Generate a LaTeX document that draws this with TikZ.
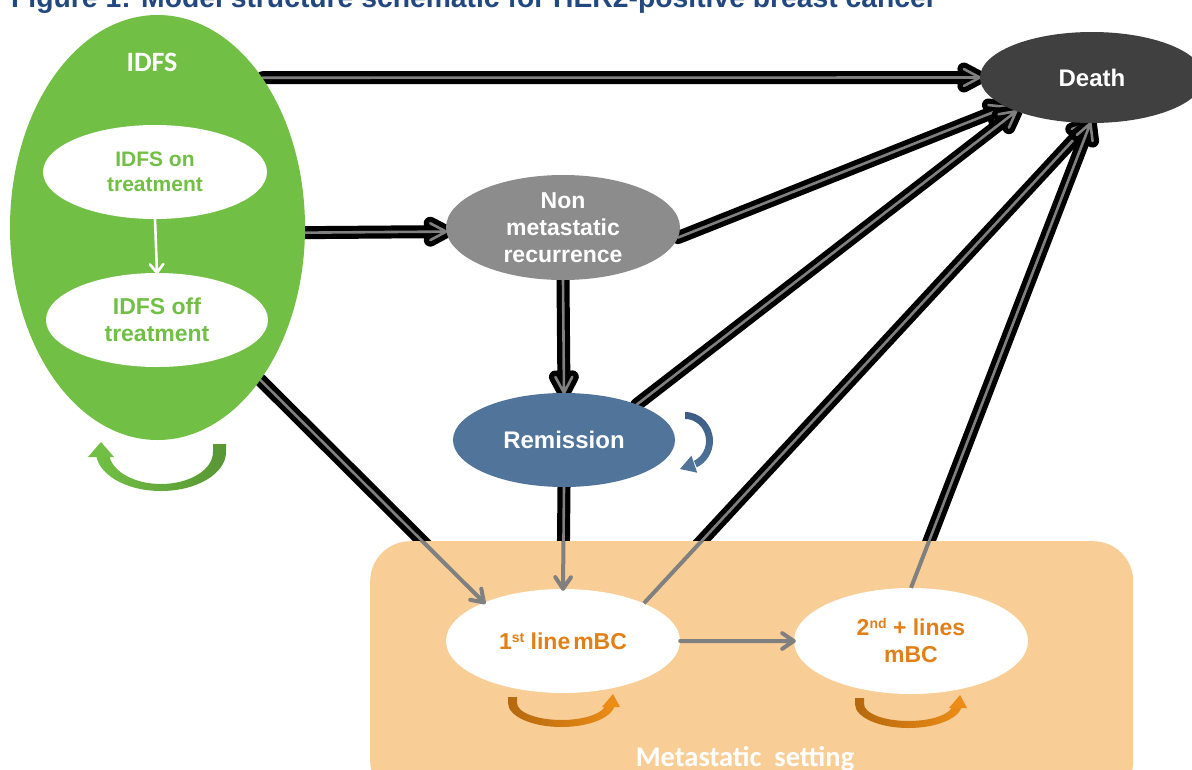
\documentclass[tikz,border=0pt]{standalone}
\usepackage{fontspec}
\setmainfont{Liberation Sans}
\newfontfamily\carlito{Carlito}
\usetikzlibrary{shapes.geometric,calc}
\definecolor{idfsgreen}{RGB}{113,191,68}
\definecolor{greendark}{RGB}{88,150,52}
\definecolor{nmgray}{RGB}{140,140,141}
\definecolor{remblue}{RGB}{80,116,154}
\definecolor{remdark}{RGB}{60,92,132}
\definecolor{deathgray}{RGB}{64,64,64}
\definecolor{boxorange}{RGB}{248,205,150}
\definecolor{txtorange}{RGB}{226,128,24}
\definecolor{loopdark}{RGB}{180,104,14}
\definecolor{loopbright}{RGB}{236,140,22}
\definecolor{titleblue}{RGB}{35,72,128}
\definecolor{fatgray}{RGB}{128,128,128}
\pgfdeclarelayer{bg}\pgfdeclarelayer{fg}\pgfsetlayers{bg,main,fg}
\begin{document}
\begin{tikzpicture}[x=1pt,y=-1pt,
  state/.style={ellipse, inner sep=0pt, draw=none},
  lbl/.style={text=white, inner sep=0pt, align=center},
  glbl/.style={text=idfsgreen, inner sep=0pt, align=center},
  olbl/.style={text=txtorange, inner sep=0pt, align=center},
  chevron/.style 2 args={to path={(\tikztostart) -- (\tikztotarget)
      ($(\tikztotarget)!#1!#2:(\tikztostart)$) -- (\tikztotarget) -- ($(\tikztotarget)!#1!-#2:(\tikztostart)$)}},
  fatarrow/.style={chevron={18pt}{28}, draw=black, line width=13pt, line join=round, line cap=round,
      postaction={draw=fatgray, line width=2.6pt}},
  thinarrow/.style={chevron={14pt}{34}, draw=fatgray, line width=4pt, line join=round, line cap=round},
  thinline/.style={draw=fatgray, line width=4pt},
  whitearrow/.style={chevron={11pt}{38}, draw=white, line width=2.6pt, line join=round, line cap=round}
]
\useasboundingbox (0,0) rectangle (1192,769);

% title (cut off at top)
\node[anchor=base west, inner sep=0pt, text=titleblue, font=\bfseries\fontsize{28.3}{30}\selectfont] (title) at (11,7)
  {Figure 1: Model structure schematic for HER2-positive breast cancer};

% states
\node[state, fill=idfsgreen, minimum width=295pt, minimum height=425pt] (idfs) at (157.5,227.5) {};
\node[state, fill=white, minimum width=224pt, minimum height=94pt] (on) at (155,172) {};
\node[state, fill=white, minimum width=222pt, minimum height=94pt] (off) at (157,320) {};
\node[state, fill=deathgray, minimum width=224pt, minimum height=91pt] (death) at (1092,77.5) {};
\node[state, fill=nmgray, minimum width=234pt, minimum height=105pt] (nonmet) at (563,227.5) {};
\node[state, fill=remblue, minimum width=222pt, minimum height=94pt] (rem) at (564,440) {};

% metastatic box
\node[fill=boxorange, rounded corners=40pt, inner sep=0pt, minimum width=763pt, minimum height=260pt, anchor=north west] (meta) at (370,541) {};
\node[state, fill=white, minimum width=234pt, minimum height=104pt] (first) at (563,641) {};
\node[state, fill=white, minimum width=234pt, minimum height=106pt] (second) at (911,641) {};

% labels
\node[lbl, anchor=base, font=\carlito\bfseries\fontsize{28}{30}\selectfont] (idfslbl) at (152,71) {IDFS};
\node[glbl, font=\bfseries\fontsize{21}{25}\selectfont] (onlbl) at (on) {IDFS on\\treatment};
\node[glbl, font=\bfseries\fontsize{23}{27}\selectfont] (offlbl) at (off) {IDFS off\\treatment};
\node[lbl, font=\bfseries\fontsize{24}{28}\selectfont] (deathlbl) at (death) {Death};
\node[lbl, font=\bfseries\fontsize{23}{27}\selectfont] (nonmetlbl) at (nonmet) {Non\\metastatic\\recurrence};
\node[lbl, font=\bfseries\fontsize{24}{28}\selectfont] (remlbl) at (rem) {Remission};
\node[olbl, font=\bfseries\fontsize{23}{27}\selectfont] (firstlbl) at (first)
  {1\raisebox{7pt}{\fontsize{14}{14}\selectfont st} line\hspace{3pt}mBC};
\node[olbl, font=\bfseries\fontsize{23}{27}\selectfont] (secondlbl) at (second)
  {2\raisebox{7pt}{\fontsize{14}{14}\selectfont nd} + lines\\mBC};
\node[lbl, anchor=base, font=\carlito\bfseries\fontsize{28.5}{30}\selectfont] (metalbl) at (745,766) {Metastatic~~setting};

% self loops
\shade[left color=idfsgreen, right color=greendark] (226,444) -- (226,452)
  arc[start angle=0, end angle=180, x radius=65, y radius=39] -- (109,452)
  arc[start angle=180, end angle=0, x radius=52, y radius=32] -- (213,444) -- cycle;
\fill[idfsgreen] (88,457) -- (101,442) -- (114,457) -- cycle;

\shade[top color=remdark, bottom color=remblue] (685,412)
  arc[start angle=-90, end angle=65, x radius=28, y radius=29] -- (693.9,460.9)
  arc[start angle=65, end angle=-90, x radius=21, y radius=22] -- cycle;
\fill[remblue] (680,469) -- (691.4,455.7) -- (697.2,472.7) -- cycle;

\shade[left color=loopdark, right color=loopbright] (508,697) -- (508,703)
  arc[start angle=180, end angle=0, x radius=53.5, y radius=24] -- (606,703)
  arc[start angle=0, end angle=180, x radius=44.5, y radius=17] -- (517,697) -- cycle;
\fill[loopbright] (602,707) -- (613,694) -- (620,707) -- cycle;

\shade[left color=loopdark, right color=loopbright] (855,698) -- (855,704)
  arc[start angle=180, end angle=0, x radius=53.5, y radius=24] -- (953,704)
  arc[start angle=0, end angle=180, x radius=44.5, y radius=17] -- (864,698) -- cycle;
\fill[loopbright] (949,708) -- (960,695) -- (967,708) -- cycle;

% background and thick connectors (behind everything)
\begin{pgfonlayer}{bg}
\fill[white] (0,0) rectangle (1192,769);
\draw[fatarrow] (idfs.55) to (death.west);
\draw[fatarrow] (idfs.-2) to (nonmet.182);
\draw[fatarrow] (idfs.-56) to (first.154);
\draw[fatarrow] (nonmet.south) to (rem.north);
\draw[fatarrow] (nonmet.-5) to (death.199);
\draw[fatarrow] (rem.26) to (death.204);
\draw[fatarrow] (rem.south) to (first.north);
\draw[fatarrow] (first.25) to (death.266);
\draw[fatarrow] (second.north) to (death.268);
\end{pgfonlayer}

% thin connectors, seen only inside the metastatic setting
\begin{pgfonlayer}{fg}
\begin{scope}
\clip[rounded corners=40pt] (meta.north west) rectangle (meta.south east);
\draw[thinarrow] (idfs.-56) to (first.154);
\draw[thinarrow] (rem.south) to (first.north);
\draw[thinline] (first.25) -- (death.266);
\draw[thinline] (second.north) -- (death.268);
\draw[thinarrow] (first.east) to (second.west);
\end{scope}
\draw[whitearrow] (on.south) to (off.north);
\end{pgfonlayer}
\end{tikzpicture}
\end{document}
